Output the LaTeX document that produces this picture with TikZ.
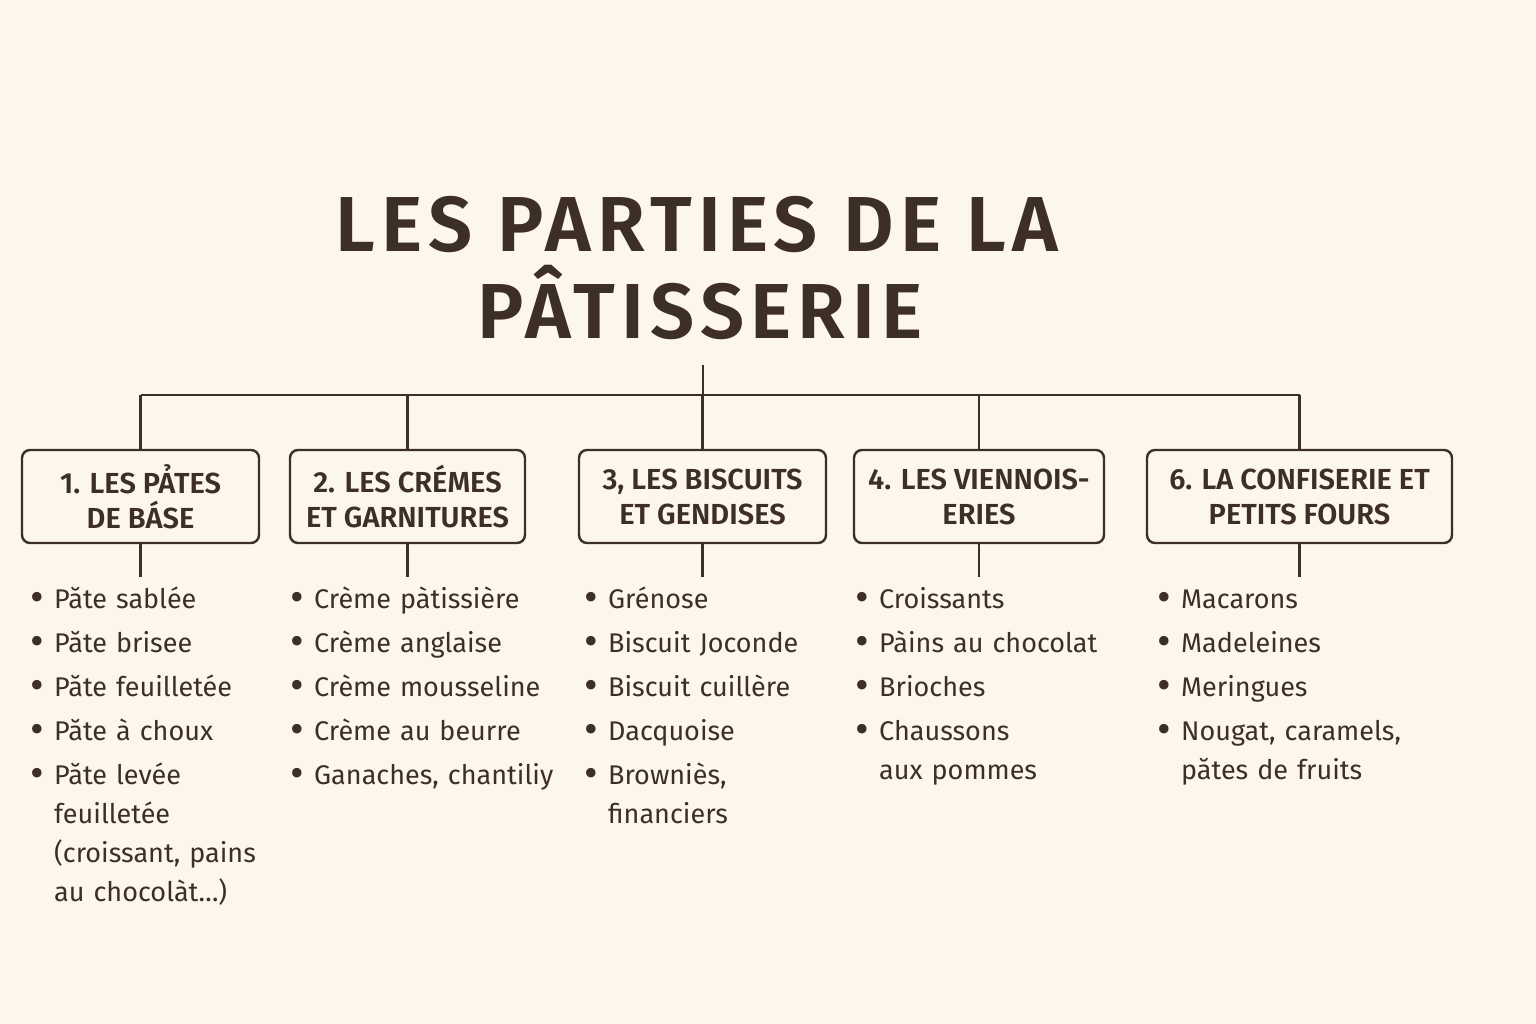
\documentclass[tikz,border=0pt]{standalone}
\usepackage{fontspec}
\setmainfont{Fira Sans}[BoldFont={Fira Sans SemiBold}]
\newfontfamily\headfont{Fira Sans SemiBold}[LetterSpace=8]
\usetikzlibrary{positioning}
\definecolor{cream}{RGB}{253,246,234}
\definecolor{choco}{RGB}{61,47,40}
\newcommand{\bigdot}{\raisebox{-3pt}{\fontsize{42}{0}\selectfont\textbullet}}
\newcommand{\bul}[1]{\hangindent=22pt\hangafter=1\noindent\makebox[22pt][l]{\kern-2pt\bigdot}#1\par\vspace{5pt}}

\begin{document}
\begin{tikzpicture}[x=1pt,y=-1pt,line width=2.4pt,draw=choco,text=choco,
  heading/.style={anchor=base,font=\fontsize{78}{86}\headfont},
  part/.style={draw,rounded corners=8pt,minimum height=93pt,inner sep=0pt,align=center,
    font=\fontsize{29}{35}\selectfont\bfseries},
  items/.style={anchor=north west,inner sep=0pt,text width=400pt,
    font=\fontsize{27}{39}\selectfont\raggedright}]

\useasboundingbox (0,0) rectangle (1536,1024);
\fill[cream] (0,0) rectangle (1536,1024);

\node[heading] (t1) at (697,252) {LES PARTIES DE LA};
\node[heading] (t2) at (700,338) {PÂTISSERIE};
\coordinate (top) at (703,365);
\coordinate (bus) at (703,395);

\node[part,minimum width=237pt] (b1) at (140.5,496.5) {1. LES PẢTES\\DE BÁSE};
\node[part,minimum width=235pt] (b2) at (407.5,496.5) {2. LES CRÉMES\\ET GARNITURES};
\node[part,minimum width=247pt] (b3) at (702.5,496.5) {3, LES BISCUITS\\ET GENDISES};
\node[part,minimum width=250pt] (b4) at (979,496.5) {4. LES VIENNOIS-\\ERIES};
\node[part,minimum width=305pt] (b5) at (1299.5,496.5) {6. LA CONFISERIE ET\\PETITS FOURS};

\node[items] (l1) at (31,577) {\bul{\rule{0pt}{30pt}Păte sablée}\bul{Păte brisee}\bul{Păte feuilletée}\bul{Păte à choux}\bul{Păte levée\newline feuilletée\newline (croissant, pains\newline au chocolàt…)}};
\node[items] (l2) at (291,577) {\bul{\rule{0pt}{30pt}Crème pàtissière}\bul{Crème anglaise}\bul{Crème mousseline}\bul{Crème au beurre}\bul{Ganaches, chantiliy}};
\node[items] (l3) at (585,577) {\bul{\rule{0pt}{30pt}Grénose}\bul{Biscuit Joconde}\bul{Biscuit cuillère}\bul{Dacquoise}\bul{Browniès,\newline financiers}};
\node[items] (l4) at (856,577) {\bul{\rule{0pt}{30pt}Croissants}\bul{Pàins au chocolat}\bul{Brioches}\bul{Chaussons\newline aux pommes}};
\node[items] (l5) at (1158,577) {\bul{\rule{0pt}{30pt}Macarons}\bul{Madeleines}\bul{Meringues}\bul{Nougat, caramels,\newline pătes de fruits}};

% tree lines
\draw (top) -- (bus);
\draw (b1.north |- bus) -- (b5.north |- bus);
\foreach \b in {1,...,5}{
  \draw (b\b.north) -- (b\b.north |- bus);
  \draw (b\b.south) -- (b\b.south |- l\b.north);
}
\end{tikzpicture}
\end{document}
